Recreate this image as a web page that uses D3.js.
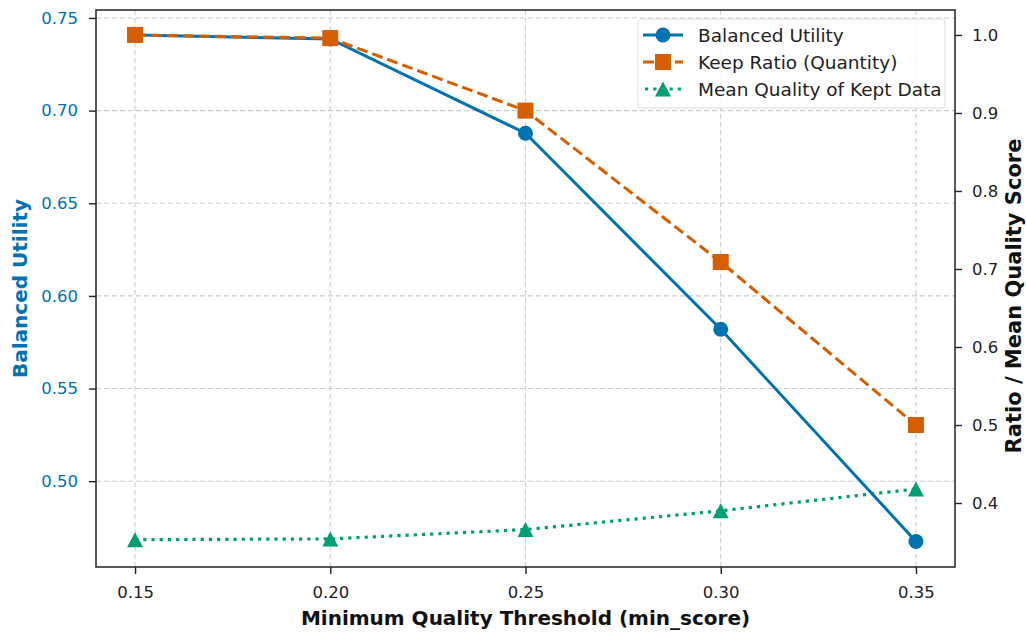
<!DOCTYPE html>
<html><head><meta charset="utf-8">
<script src="https://cdn.jsdelivr.net/npm/d3@7"></script>
<style>body{margin:0;background:#fff;font-family:"DejaVu Sans",sans-serif;}</style>
</head><body><svg id="c" width="1026" height="632"></svg>
<script>
const thresholds = [0.15, 0.20, 0.25, 0.30, 0.35];
const balancedUtility = [0.7408, 0.7387, 0.6878, 0.5820, 0.4675];
const keepRatio = [1.0, 0.996, 0.903, 0.709, 0.500];
const meanQuality = [0.353, 0.354, 0.366, 0.390, 0.418];
const xTicks = [0.15, 0.20, 0.25, 0.30, 0.35];
const leftTicks = [0.50, 0.55, 0.60, 0.65, 0.70, 0.75];
const rightTicks = [0.4, 0.5, 0.6, 0.7, 0.8, 0.9, 1.0];

const BLUE = "#0072B2", ORANGE = "#D55E00", GREEN = "#009E73";
const svg = d3.select("#c");
const L = 96, R = 955, T = 10, B = 567;
const x = d3.scaleLinear().domain([0.14, 0.36]).range([L, R]);
const yL = d3.scaleLinear().domain([0.4537, 0.7543]).range([B, T]);
const yR = d3.scaleLinear().domain([0.318, 1.032]).range([B, T]);

// grid
const g = svg.append("g");
g.selectAll(".gx").data(xTicks).enter().append("line")
  .attr("x1", d => x(d)).attr("x2", d => x(d)).attr("y1", T).attr("y2", B)
  .attr("stroke", "#cccccc").attr("stroke-width", 1.1).attr("stroke-dasharray", "5,3");
g.selectAll(".gy").data(leftTicks).enter().append("line")
  .attr("x1", L).attr("x2", R).attr("y1", d => yL(d)).attr("y2", d => yL(d))
  .attr("stroke", "#cccccc").attr("stroke-width", 1.1).attr("stroke-dasharray", "5,3");

// axes
const fmt2 = d3.format(".2f"), fmt1 = d3.format(".1f");
const ax = svg.append("g").attr("transform", `translate(0,${B})`)
  .call(d3.axisBottom(x).tickValues(xTicks).tickFormat(fmt2).tickSize(7).tickPadding(12));
const ayL = svg.append("g").attr("transform", `translate(${L},0)`)
  .call(d3.axisLeft(yL).tickValues(leftTicks).tickFormat(fmt2).tickSize(7).tickPadding(11));
const ayR = svg.append("g").attr("transform", `translate(${R},0)`)
  .call(d3.axisRight(yR).tickValues(rightTicks).tickFormat(fmt1).tickSize(7).tickPadding(10));
[ax, ayL, ayR].forEach(a => {
  a.select(".domain").remove();
  a.selectAll("text").attr("font-family", "DejaVu Sans").attr("font-size", 16.5).attr("fill", "#222");
  a.selectAll("line").attr("stroke", "#222").attr("stroke-width", 1.4);
});
ayL.selectAll("text").attr("fill", BLUE);
svg.append("rect").attr("x", L).attr("y", T).attr("width", R - L).attr("height", B - T)
  .attr("fill", "none").attr("stroke", "#222").attr("stroke-width", 1.5);

// titles
svg.append("text").attr("x", (L + R) / 2).attr("y", 625).attr("text-anchor", "middle")
  .attr("font-weight", "bold").attr("font-size", 20).attr("fill", "#111")
  .text("Minimum Quality Threshold (min_score)");
svg.append("text").attr("transform", `translate(27,${(T + B) / 2}) rotate(-90)`).attr("text-anchor", "middle")
  .attr("font-weight", "bold").attr("font-size", 20).attr("fill", BLUE).text("Balanced Utility");
svg.append("text").attr("transform", `translate(1021,296) rotate(-90)`).attr("text-anchor", "middle")
  .attr("font-weight", "bold").attr("font-size", 21).attr("fill", "#111").text("Ratio / Mean Quality Score");

// lines
const lineL = d3.line().x((d, i) => x(thresholds[i])).y(d => yL(d));
const lineR = d3.line().x((d, i) => x(thresholds[i])).y(d => yR(d));
svg.append("path").datum(meanQuality).attr("d", lineR).attr("fill", "none")
  .attr("stroke", GREEN).attr("stroke-width", 3.2).attr("stroke-dasharray", "3.2,5");
svg.append("path").datum(balancedUtility).attr("d", lineL).attr("fill", "none")
  .attr("stroke", BLUE).attr("stroke-width", 3);
svg.append("path").datum(keepRatio).attr("d", lineR).attr("fill", "none")
  .attr("stroke", ORANGE).attr("stroke-width", 3).attr("stroke-dasharray", "11,5");

function triPath(w, h) { return `M0,${-h / 2}L${w / 2},${h / 2}L${-w / 2},${h / 2}Z`; }
svg.selectAll(".mq").data(meanQuality).enter().append("path")
  .attr("d", triPath(16, 15)).attr("transform", (d, i) => `translate(${x(thresholds[i])},${yR(d)})`).attr("fill", GREEN);
svg.selectAll(".bu").data(balancedUtility).enter().append("circle")
  .attr("cx", (d, i) => x(thresholds[i])).attr("cy", d => yL(d)).attr("r", 7.5).attr("fill", BLUE);
svg.selectAll(".kr").data(keepRatio).enter().append("rect")
  .attr("x", (d, i) => x(thresholds[i]) - 8).attr("y", d => yR(d) - 8)
  .attr("width", 16).attr("height", 16).attr("fill", ORANGE);

// legend
const lg = svg.append("g");
lg.append("rect").attr("x", 638).attr("y", 19).attr("width", 307).attr("height", 89).attr("rx", 3)
  .attr("fill", "rgba(255,255,255,0.85)").attr("stroke", "#dddddd");
const items = [
  {name: "Balanced Utility", color: BLUE, dash: null, m: "circle"},
  {name: "Keep Ratio (Quantity)", color: ORANGE, dash: "11,5", m: "square"},
  {name: "Mean Quality of Kept Data", color: GREEN, dash: "3.2,5", m: "tri"}
];
items.forEach((it, i) => {
  const cy = 35 + i * 27;
  lg.append("line").attr("x1", it.m === "tri" ? 645 : 643).attr("x2", 683).attr("y1", cy).attr("y2", cy)
    .attr("stroke", it.color).attr("stroke-width", it.m === "tri" ? 3.2 : 3).attr("stroke-dasharray", it.dash);
  if (it.m === "circle") lg.append("circle").attr("cx", 663).attr("cy", cy).attr("r", 7.5).attr("fill", it.color);
  else if (it.m === "square") lg.append("rect").attr("x", 655).attr("y", cy - 8).attr("width", 16).attr("height", 16).attr("fill", it.color);
  else lg.append("path").attr("d", triPath(16, 15)).attr("transform", `translate(663,${cy})`).attr("fill", it.color);
  lg.append("text").attr("x", 698).attr("y", cy + 6.5).attr("font-size", 18.5).attr("fill", "#222").text(it.name);
});
</script></body></html>
